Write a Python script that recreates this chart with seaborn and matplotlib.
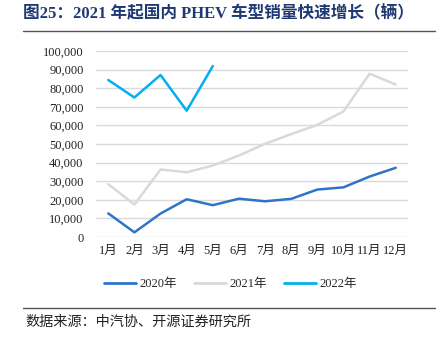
import matplotlib
matplotlib.use("Agg")
import matplotlib.pyplot as plt
import seaborn as sns
import pandas as pd
import numpy as np
from matplotlib.lines import Line2D
from matplotlib.ticker import FuncFormatter

months = ["1月", "2月", "3月", "4月", "5月", "6月", "7月", "8月", "9月", "10月", "11月", "12月"]
sales_2020 = [12700, 2500, 12600, 20300, 17100, 20600, 19200, 20500, 25500, 26700, 32500, 37200]
sales_2021 = [28400, 17400, 36300, 34800, 38400, 43800, 50100, 55300, 60300, 67500, 87800, 82000]
sales_2022 = [84400, 75000, 87100, 67900, 91900]
series_names = ["2020年", "2021年", "2022年"]
colors = ["#2E74C8", "#D9D9D9", "#00B0F0"]

rows = []
for name, vals in zip(series_names, [sales_2020, sales_2021, sales_2022]):
    for i, v in enumerate(vals):
        rows.append({"month": i, "sales": v, "year": name})
df = pd.DataFrame(rows)

sns.set_theme(style="white")
plt.rcParams["font.family"] = ["Liberation Serif", "Noto Sans CJK SC"]

fig = plt.figure(figsize=(4.45, 3.43), dpi=100)
ax = fig.add_axes([96 / 445, (343 - 237) / 343, (408 - 96) / 445, (237 - 51) / 343])

sns.lineplot(data=df, x="month", y="sales", hue="year", hue_order=series_names,
             palette=dict(zip(series_names, colors)), linewidth=1.8, ax=ax,
             legend=False, sort=False)

ax.set_ylim(0, 100000)
ax.set_yticks(np.arange(0, 100001, 10000))
ax.yaxis.set_major_formatter(FuncFormatter(lambda v, p: f"{int(v):,}"))
ax.set_xlim(-0.47, 11.47)
ax.set_xticks(range(12))
ax.set_xticklabels(months)
ax.set_xlabel("")
ax.set_ylabel("")
ax.grid(axis="y", color="#DADADA", linewidth=1.0)
ax.set_axisbelow(True)
for s in ax.spines.values():
    s.set_visible(False)
ax.tick_params(axis="y", length=0, pad=9, labelsize=9, colors="#222222")
ax.tick_params(axis="x", length=0, pad=6, labelsize=9, colors="#222222")

# legend
handles = [Line2D([0], [0], color=c, linewidth=2.0) for c in colors]
fig.legend(handles, series_names, loc="center", bbox_to_anchor=(0.518, (343 - 284) / 343),
           ncol=3, frameon=False, fontsize=9, handlelength=2.6, handletextpad=0.3,
           columnspacing=1.3)

# title
fig.text(23 / 445, 1 - 14 / 343, "图25：2021 年起国内 PHEV 车型销量快速增长（辆）",
         fontsize=12, fontweight="bold", color="#1F3A73", ha="left", va="center",
         family=["Liberation Serif", "Noto Sans CJK SC"])
fig.add_artist(Line2D([23 / 445, 435 / 445], [1 - 31 / 343, 1 - 31 / 343],
                      color="#555555", linewidth=1.0))

# source
fig.add_artist(Line2D([23 / 445, 435 / 445], [1 - 308 / 343, 1 - 308 / 343],
                      color="#555555", linewidth=1.0))
fig.text(25 / 445, 1 - 322 / 343, "数据来源：中汽协、开源证券研究所",
         fontsize=10.2, color="#222222", ha="left", va="center",
         family=["Noto Sans CJK SC"])

fig.savefig("out.png", dpi=100)
